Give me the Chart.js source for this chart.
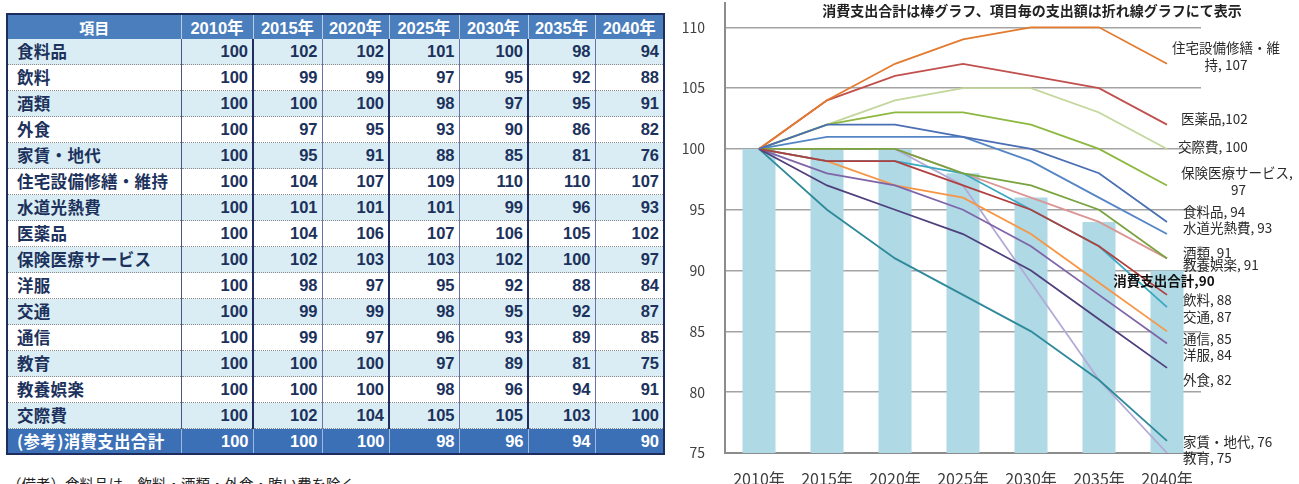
<!DOCTYPE html>
<html lang="ja">
<head>
<meta charset="utf-8">
<title>消費支出の将来推計</title>
<script src="https://cdn.jsdelivr.net/npm/chart.js@4.4.1/dist/chart.umd.min.js"></script>
<style>
  html, body { margin: 0; padding: 0; background: #fff; }
  body { width: 1299px; height: 484px; position: relative; overflow: hidden; }
  #tbl {
    position: absolute; left: 6px; top: 13px; width: 657px;
    border-collapse: collapse; table-layout: fixed;
    border: 2px solid #1f2d5e;
    font-family: "Liberation Sans", "Noto Sans CJK JP", sans-serif;
    font-weight: bold; color: #1c325c;
  }
  #tbl th {
    background: #4a7ebd; color: #fff; height: 24px; padding: 0;
    font-size: 16.5px; text-align: center;
    border-left: 1px solid #b9cde6;
    font-family: "Liberation Sans", "Noto Sans CJK JP", sans-serif;
  }
  #tbl th.name { font-family: "Noto Sans CJK JP", sans-serif; font-size: 15px; }
  #tbl td {
    height: 25px; padding: 0 4px 0 0; font-size: 16.5px; text-align: right;
    border-bottom: 1px dotted #8a8a8a; line-height: 25px;
  }
  #tbl td.name {
    text-align: left; padding-left: 9px;
    font-family: "Noto Sans CJK JP", sans-serif; font-size: 16.5px; letter-spacing: 0.3px;
  }
  #tbl tr.shade td { background: #daedf4; }
  #tbl td.c1 { border-left: 1px solid #4a5580; }
  #tbl td.c2, #tbl td.c4, #tbl td.c6 { border-left: 2px solid #1f2d63; }
  #tbl td.c3, #tbl td.c5, #tbl td.c7 { border-left: 1px solid #6a72a8; }
  #tbl tr.total td {
    background: #3b70b7; color: #fff; border-bottom: none;
    border-left: 1px solid #9fbade; height: 24px; line-height: 24px;
  }
  #note {
    position: absolute; left: 7px; top: 476px;
    font-family: "Noto Sans CJK JP", sans-serif; font-size: 14.5px; line-height: 16px;
    color: #222; white-space: nowrap;
  }
  #chartBox { position: absolute; left: 680px; top: 0; width: 619px; height: 484px; }
</style>
</head>
<body>
<table id="tbl"></table>
<div id="note">（備考）食料品は、飲料・酒類・外食・賄い費を除く</div>
<div id="chartBox"><canvas id="chart" width="619" height="484"></canvas></div>
<script>
// Survey years
const years = ['2010年', '2015年', '2020年', '2025年', '2030年', '2035年', '2040年'];

// Spending index per item (2010 = 100)
const food           = [100, 102, 102, 101, 100,  98,  94];
const drinks         = [100,  99,  99,  97,  95,  92,  88];
const alcohol        = [100, 100, 100,  98,  97,  95,  91];
const eatingOut      = [100,  97,  95,  93,  90,  86,  82];
const rent           = [100,  95,  91,  88,  85,  81,  76];
const housingRepair  = [100, 104, 107, 109, 110, 110, 107];
const utilities      = [100, 101, 101, 101,  99,  96,  93];
const medicine       = [100, 104, 106, 107, 106, 105, 102];
const healthServices = [100, 102, 103, 103, 102, 100,  97];
const clothing       = [100,  98,  97,  95,  92,  88,  84];
const transport      = [100,  99,  99,  98,  95,  92,  87];
const communication  = [100,  99,  97,  96,  93,  89,  85];
const education      = [100, 100, 100,  97,  89,  81,  75];
const recreation     = [100, 100, 100,  98,  96,  94,  91];
const socialExpenses = [100, 102, 104, 105, 105, 103, 100];

// Total consumption spending (reference row, drawn as bars)
const totalSpending  = [100, 100, 100,  98,  96,  94,  90];
const totalName = '(参考)消費支出合計';
const totalChartName = '消費支出合計';

// Y axis ticks
const yTicks = [75, 80, 85, 90, 95, 100, 105, 110];

// Items in table order
const series = [
  { name: '食料品',             values: food,           color: '#4a6fb4' },
  { name: '飲料',               values: drinks,         color: '#b0403f' },
  { name: '酒類',               values: alcohol,        color: '#79a33f' },
  { name: '外食',               values: eatingOut,      color: '#4f3f7c' },
  { name: '家賃・地代',         values: rent,           color: '#2e8a9a' },
  { name: '住宅設備修繕・維持', values: housingRepair,  color: '#e37a2e' },
  { name: '水道光熱費',         values: utilities,      color: '#5585c4' },
  { name: '医薬品',             values: medicine,       color: '#c0504d' },
  { name: '保険医療サービス',   values: healthServices, color: '#8db840' },
  { name: '洋服',               values: clothing,       color: '#7f64a8' },
  { name: '交通',               values: transport,      color: '#3aa8c1' },
  { name: '通信',               values: communication,  color: '#f79646' },
  { name: '教育',               values: education,      color: '#b3aad6' },
  { name: '教養娯楽',           values: recreation,     color: '#d99694' },
  { name: '交際費',             values: socialExpenses, color: '#c3d69b' }
];

// ---- table ----
(function buildTable() {
  const tbl = document.getElementById('tbl');
  const cols = document.createElement('colgroup');
  [174, 72, 69, 67, 70, 69, 67, 69].forEach(w => {
    const c = document.createElement('col'); c.style.width = w + 'px'; cols.appendChild(c);
  });
  tbl.appendChild(cols);
  const head = document.createElement('tr');
  const h0 = document.createElement('th'); h0.className = 'name'; h0.textContent = '項目'; head.appendChild(h0);
  years.forEach(y => { const th = document.createElement('th'); th.textContent = y; head.appendChild(th); });
  tbl.appendChild(head);
  const addRow = (name, values, cls) => {
    const tr = document.createElement('tr');
    if (cls) tr.className = cls;
    const td0 = document.createElement('td'); td0.className = 'name'; td0.textContent = name; tr.appendChild(td0);
    values.forEach((v, j) => {
      const td = document.createElement('td'); td.className = 'c' + (j + 1); td.textContent = v; tr.appendChild(td);
    });
    tbl.appendChild(tr);
  };
  series.forEach((s, i) => addRow(s.name, s.values, i % 2 === 0 ? 'shade' : ''));
  addRow(totalName, totalSpending, 'total');
})();

// ---- chart ----
// label text tweaks: separator and optional line break position
const labelText = {
  '医薬品': { sep: ',' },
  '住宅設備修繕・維持': { wrap: 8, center: true },
  '保険医療サービス': { wrap: 9, center: true }
};
// nudges that keep the end labels apart
const labelNudge = {
  '住宅設備修繕・維持': [5, -16], '医薬品': [14, -6], '交際費': [11, -2],
  '保険医療サービス': [14, -13], '食料品': [16, -10], '水道光熱費': [16, -6],
  '酒類': [16, -6], '教養娯楽': [16, 6], '飲料': [16, 5], '交通': [16, 10],
  '通信': [16, 7], '洋服': [16, 11], '外食': [16, 12], '家賃・地代': [16, 1],
  '教育': [16, 5]
};

const endLabels = {
  id: 'endLabels',
  afterDatasetsDraw(chart) {
    const ctx = chart.ctx;
    ctx.save();
    ctx.textBaseline = 'middle';
    ctx.fillStyle = '#2b2b2b';
    ctx.font = '13.5px "Noto Sans CJK JP", sans-serif';
    series.forEach((s, i) => {
      const meta = chart.getDatasetMeta(i);
      const pt = meta.data[meta.data.length - 1];
      const opt = labelText[s.name] || {};
      const txt = s.name + (opt.sep || ', ') + s.values[s.values.length - 1];
      const lines = opt.wrap ? [txt.slice(0, opt.wrap), txt.slice(opt.wrap)] : [txt];
      const [dx, dy] = labelNudge[s.name] || [16, 0];
      const left = pt.x + dx;
      const blockW = Math.max(...lines.map(l => ctx.measureText(l).width));
      lines.forEach((l, k) => {
        const y = pt.y + dy + k * 17;
        if (opt.center) {
          ctx.textAlign = 'center';
          ctx.fillText(l, left + blockW / 2, y);
        } else {
          ctx.textAlign = 'left';
          ctx.fillText(l, left, y);
        }
      });
    });
    // total spending label over last bar
    const barMeta = chart.getDatasetMeta(series.length);
    const bar = barMeta.data[barMeta.data.length - 1];
    ctx.font = 'bold 13.5px "Noto Sans CJK JP", sans-serif';
    ctx.fillStyle = '#111';
    ctx.textAlign = 'center';
    ctx.fillText(totalChartName + ',' + totalSpending[totalSpending.length - 1], bar.x - 3, bar.y + 10);
    // chart heading
    ctx.font = 'bold 14px "Noto Sans CJK JP", sans-serif';
    ctx.fillStyle = '#222';
    ctx.fillText('消費支出合計は棒グラフ、項目毎の支出額は折れ線グラフにて表示', 352, 11);
    ctx.restore();
  }
};

const datasets = series.map(s => ({
  type: 'line',
  label: s.name,
  data: s.values,
  borderColor: s.color,
  backgroundColor: s.color,
  borderWidth: 1.8,
  pointRadius: 0,
  tension: 0,
  fill: false,
  order: 1
}));
datasets.push({
  type: 'bar',
  label: totalChartName,
  data: totalSpending,
  backgroundColor: '#aed9e5',
  borderWidth: 0,
  barPercentage: 0.485,
  categoryPercentage: 1,
  order: 10
});

new Chart(document.getElementById('chart'), {
  data: { labels: years, datasets },
  options: {
    responsive: false,
    animation: false,
    devicePixelRatio: 1,
    layout: { autoPadding: false, padding: { top: 3, right: 98, bottom: 0, left: 0 } },
    plugins: { legend: { display: false }, tooltip: { enabled: false }, title: { display: false } },
    scales: {
      x: {
        grid: { display: false },
        border: { display: true, color: '#8c8c8c', width: 2 },
        ticks: { color: '#404040', font: { family: '"Noto Sans CJK JP", sans-serif', size: 16 }, padding: 8 },
        afterFit(scale) { scale.height = 31; }
      },
      y: {
        min: 75, max: 112,
        afterBuildTicks(scale) { scale.ticks = yTicks.map(v => ({ value: v })); },
        grid: { color: '#a3a3a3', lineWidth: 1.5, drawTicks: true, tickLength: 20, tickColor: 'rgba(0,0,0,0)' },
        border: { display: true, color: '#8c8c8c', width: 2 },
        ticks: { color: '#404040', font: { family: '"Noto Sans CJK JP", sans-serif', size: 14, lineHeight: 0.4 }, padding: 0 },
        afterFit(scale) { scale.width = 45; }
      }
    }
  },
  plugins: [endLabels]
});
</script>
</body>
</html>
